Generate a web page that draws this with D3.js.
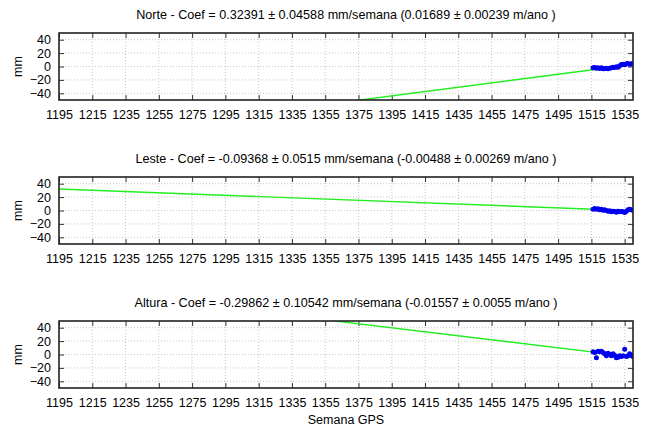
<!DOCTYPE html>
<html>
<head>
<meta charset="utf-8">
<script src="https://cdn.jsdelivr.net/npm/d3@7"></script>
<style>
  body { margin: 0; background: #fff; }
  svg { font-family: "Liberation Sans", Arial, sans-serif; }
</style>
</head>
<body>
<svg id="chart" width="657" height="430"></svg>
<script>
// GPS weeks with observations
const weeks = d3.range(1516, 1541);

const norte = [-2, -1.5, -2.5, -2, -3, -2, -3.5, -3, -2.5, -3.5, -2.5, -2, -1, -1.5, -0.5, -1, 1, 3, 3.5, 2.5, 4, 4.5, 3.5, 4, 4.5];
const leste = [2, 3, 2, 2.5, 1, 2, 0.5, 1, 0, -1, -0.5, -2, -1, -1.5, -2.5, -1, -2, -1.5, -2, -3, -1, 1, 2, 1, 0.5];
const altura = [4, 3, -5, 5, 4, 5, 3, 1, -2, 2, 0, -2, 1, -1, -5, -4, -2, -3, -2, 8, -3, -2, 1, -1, -3];

// linear fit: slope (mm/semana) and value at week 1540
const fitSlopes = [0.32391, -0.09368, -0.29862];
const fitAt1540 = [3.1, -0.3, -3.5];

const titles = [
  "Norte - Coef = 0.32391 \u00b1 0.04588 mm/semana (0.01689 \u00b1 0.00239 m/ano )",
  "Leste - Coef = -0.09368 \u00b1 0.0515 mm/semana (-0.00488 \u00b1 0.00269 m/ano )",
  "Altura - Coef = -0.29862 \u00b1 0.10542 mm/semana (-0.01557 \u00b1 0.0055 m/ano )"
];

const xTicks = d3.range(1195, 1536, 20);
const yTicks = [-40, -20, 0, 20, 40];

const svg = d3.select("#chart");
const left = 59, right = 633;
const panelTops = [33, 177, 321];
const panelH = 67;

const x = d3.scaleLinear().domain([1195, 1540]).range([left, right]);
const series = [norte, leste, altura];

panelTops.forEach((top, i) => {
  const y = d3.scaleLinear().domain([-50, 50]).range([top + panelH, top]);
  const g = svg.append("g");

  const clipId = "clip" + i;
  g.append("clipPath").attr("id", clipId)
    .append("rect").attr("x", left).attr("y", top).attr("width", right - left).attr("height", panelH);

  // grid
  g.selectAll(".vg").data(xTicks.slice(1)).enter().append("line")
    .attr("x1", d => x(d)).attr("x2", d => x(d))
    .attr("y1", top).attr("y2", top + panelH)
    .attr("stroke", "#b8b8b8").attr("stroke-width", 0.8).attr("stroke-dasharray", "1,2");
  g.selectAll(".hg").data(yTicks).enter().append("line")
    .attr("x1", left).attr("x2", right)
    .attr("y1", d => y(d)).attr("y2", d => y(d))
    .attr("stroke", "#b8b8b8").attr("stroke-width", 0.8).attr("stroke-dasharray", "1,2");

  // axes with inward ticks
  const axB = g.append("g").attr("transform", `translate(0,${top + panelH})`)
    .call(d3.axisBottom(x).tickValues(xTicks).tickSize(-5).tickPadding(10).tickFormat(d3.format("d")));
  const axT = g.append("g").attr("transform", `translate(0,${top})`)
    .call(d3.axisTop(x).tickValues(xTicks).tickSize(-5).tickFormat(""));
  const axL = g.append("g").attr("transform", `translate(${left},0)`)
    .call(d3.axisLeft(y).tickValues(yTicks).tickSize(-5).tickPadding(8));
  const axR = g.append("g").attr("transform", `translate(${right},0)`)
    .call(d3.axisRight(y).tickValues(yTicks).tickSize(-5).tickFormat(""));
  [axB, axT, axL, axR].forEach(a => {
    a.select(".domain").remove();
    a.selectAll("line").attr("stroke", "#333");
    a.selectAll("text").attr("font-size", 12.5).attr("fill", "#000")
      .attr("font-family", "Liberation Sans, Arial, sans-serif");
  });

  // fit line
  const s = fitSlopes[i], b = fitAt1540[i];
  const fit = d3.line().x(d => x(d)).y(d => y(b + s * (d - 1540)));
  g.append("path").datum([1195, 1540]).attr("d", fit)
    .attr("clip-path", `url(#${clipId})`)
    .attr("fill", "none").attr("stroke", "#22ee22").attr("stroke-width", 1.4);

  // points
  g.append("g").attr("clip-path", `url(#${clipId})`)
    .selectAll("circle").data(series[i]).enter().append("circle")
    .attr("cx", (d, k) => x(weeks[k])).attr("cy", d => y(d)).attr("r", 2.5)
    .attr("fill", "#0000ee");

  // border
  g.append("rect").attr("x", left).attr("y", top).attr("width", right - left).attr("height", panelH)
    .attr("fill", "none").attr("stroke", "#222").attr("stroke-width", 1.6);

  // title
  svg.append("text").attr("x", 346).attr("y", top - 14).attr("text-anchor", "middle")
    .attr("font-size", 12.6).text(titles[i]);

  // y label
  svg.append("text").attr("transform", `translate(22,${top + panelH / 2}) rotate(-90)`)
    .attr("text-anchor", "middle").attr("font-size", 12.5).text("mm");
});

svg.append("text").attr("x", 346).attr("y", 424).attr("text-anchor", "middle")
  .attr("font-size", 12.5).text("Semana GPS");
</script>
</body>
</html>
